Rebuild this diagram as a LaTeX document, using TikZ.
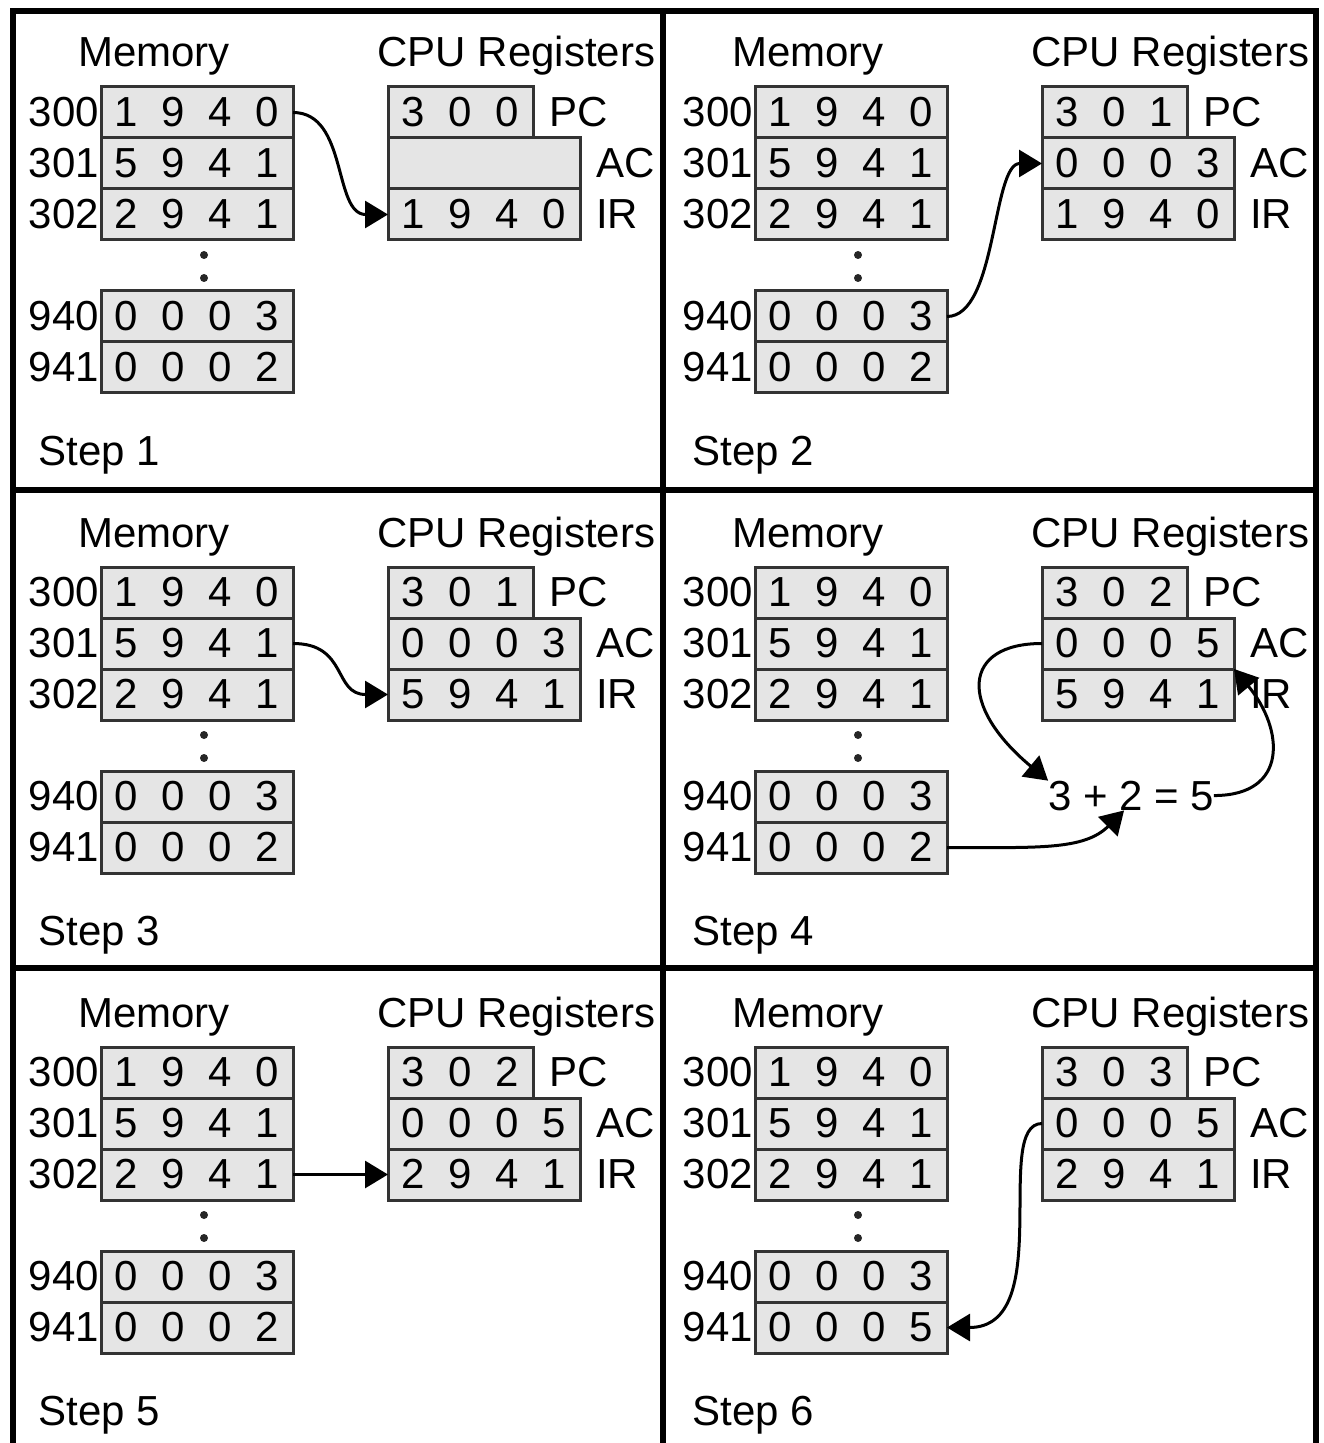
\documentclass[tikz,border=0pt]{standalone}
\usepackage{fontspec}
\setmainfont{Liberation Sans}
\usetikzlibrary{positioning,arrows.meta}

% one digit per slot, as in the cells of the figure
\newcommand{\slot}[1]{\makebox[1.12em]{#1}}
\newcommand{\memword}[4]{\slot{#1}\slot{#2}\slot{#3}\slot{#4}}
\newcommand{\pcword}[3]{\slot{#1}\slot{#2}\slot{#3}}

% #1 prefix, #2 origin, #3 step, #4 PC, #5 AC content, #6 IR, #7 word at 941
\newcommand{\cpupanel}[7]{%
    \begin{scope}[shift={#2}]
        % Memory column
        \node[anchor=base] (#1-memt) at (144,57) {Memory};
        \node[cellbox, anchor=north west] (#1-300) at (91,77) {\memword1940};
        \node[cellbox, below=0pt of #1-300] (#1-301) {\memword5941};
        \node[cellbox, below=0pt of #1-301] (#1-302) {\memword2941};
        \node[memdot, below=5.5pt of #1-302, xshift=3.5pt] (#1-d1) {};
        \node[memdot, below=7.5pt of #1-d1] (#1-d2) {};
        \node[cellbox, below=25.5pt of #1-302] (#1-940) {\memword0003};
        \node[cellbox, below=0pt of #1-940] (#1-941) {\memword#7};

        % Addresses
        \node[left=1pt of #1-300] (#1-a300) {300};
        \node[left=1pt of #1-301] (#1-a301) {301};
        \node[left=1pt of #1-302] (#1-a302) {302};
        \node[left=1pt of #1-940] (#1-a940) {940};
        \node[left=1pt of #1-941] (#1-a941) {941};

        % CPU registers
        \node[anchor=base] (#1-regt) at (506.5,57) {CPU Registers};
        \node[pcbox, anchor=north west] (#1-pc) at (378,77) {\pcword#4};
        \node[cellbox, below=0pt of #1-pc.south west, anchor=north west] (#1-ac) {#5};
        \node[cellbox, below=0pt of #1-ac] (#1-ir) {\memword#6};
        \node[right=8pt of #1-pc] (#1-pcl) {PC};
        \node[right=8pt of #1-ac] (#1-acl) {AC};
        \node[right=8pt of #1-ir] (#1-irl) {IR};

        \node[anchor=base west] (#1-step) at (28.5,455) {Step #3};
    \end{scope}}

\begin{document}
\begin{tikzpicture}[
        x=0.5pt, y=-0.5pt,
        every node/.style={font=\fontsize{21}{25}\selectfont, inner sep=0pt, outer sep=0pt},
        cellbox/.style={draw=black!80, line width=1.5pt, fill=black!10, minimum width=96pt, minimum height=25.5pt},
        pcbox/.style={cellbox, minimum width=72.5pt},
        memdot/.style={circle, fill=black!85, minimum size=4pt},
        panelline/.style={line width=3pt},
        flow/.style={-{Triangle[length=11.5pt, width=13.5pt]}, line width=1.5pt}
    ]
        \useasboundingbox (0,0) rectangle (1323,1443);

        % Frame and dividers
        \draw[panelline] (13,1443) |- (1316,11) -- (1316,1443);
        \draw[panelline] (663,11) -- (663,1443);
        \draw[panelline] (13,490) -- (1316,490);
        \draw[panelline] (13,968) -- (1316,968);

        % The six steps
        \cpupanel{p1}{(10,10)}{1}{300}{}{1940}{0002}
        \cpupanel{p2}{(664,10)}{2}{301}{\memword0003}{1940}{0002}
        \cpupanel{p3}{(10,490)}{3}{301}{\memword0003}{5941}{0002}
        \cpupanel{p4}{(664,490)}{4}{302}{\memword0005}{5941}{0002}
        \cpupanel{p5}{(10,970)}{5}{302}{\memword0005}{2941}{0002}
        \cpupanel{p6}{(664,970)}{6}{303}{\memword0005}{2941}{0005}

        % Step 1: fetch 300 into IR
        \draw[flow] (p1-300.east) .. controls +(55,0) and +(-55,0) .. (p1-ir.west);

        % Step 2: load 940 into AC
        \draw[flow] (p2-940.east) .. controls +(50,0) and +(-50,0) .. (p2-ac.west);

        % Step 3: fetch 301 into IR
        \draw[flow] (p3-301.east) .. controls +(55,0) and +(-55,0) .. (p3-ir.west);

        % Step 4: add 941 to AC
        \node[anchor=base] (sum) at (1131,810) {3 + 2 = 5};
        \draw[flow] (p4-ac.west) .. controls +(-80,0) and +(-90,-75) .. (sum.north west);
        \draw[flow] (p4-941.east) .. controls +(90,0) and +(-40,40) .. (sum.245);
        \draw[flow] (sum.east) .. controls +(75,0) and +(50,60) .. (p4-ac.south east);

        % Step 5: fetch 302 into IR
        \draw[flow] (p5-302.east) -- (p5-ir.west);

        % Step 6: store AC at 941
        \draw[flow] (p6-ac.west) .. controls +(-50,0) and +(110,0) .. (p6-941.east);

    \end{tikzpicture}
\end{document}
